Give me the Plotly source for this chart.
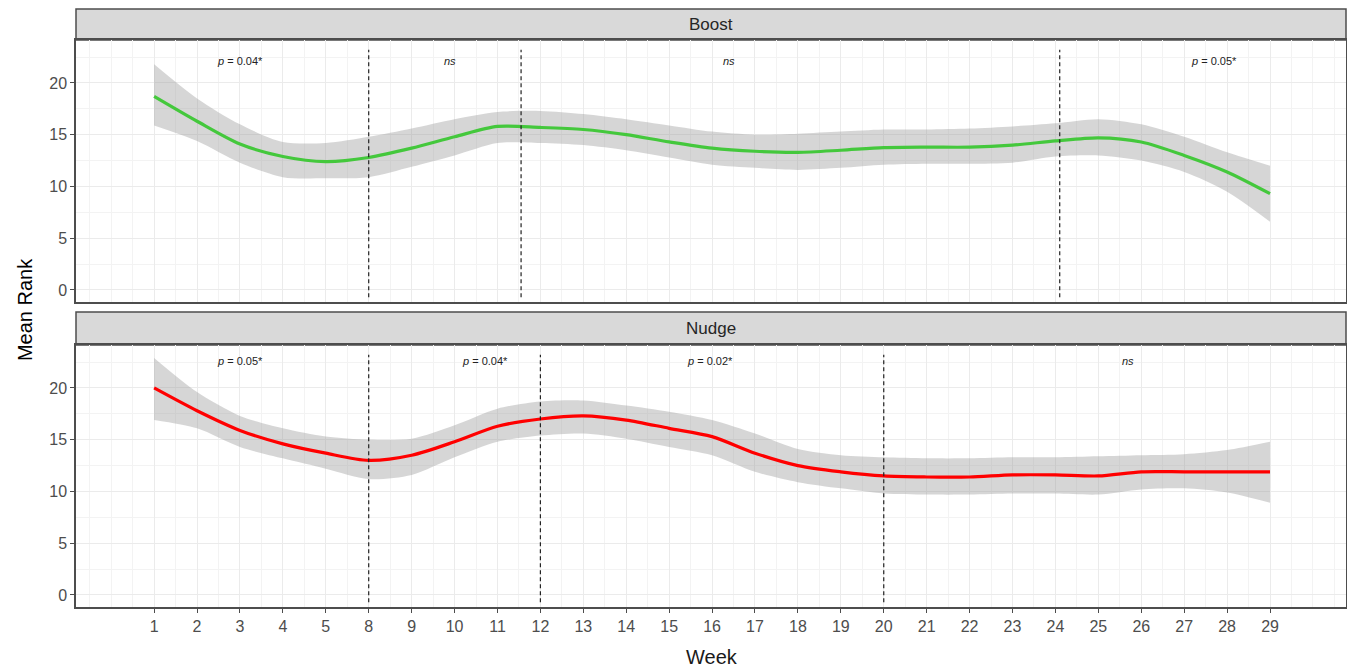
import plotly.graph_objects as go

# ---------------- data ----------------
week_labels = ["1", "2", "3", "4", "5", "8", "9", "10", "11", "12", "13", "14", "15", "16",
               "17", "18", "19", "20", "21", "22", "23", "24", "25", "26", "27", "28", "29"]
positions = list(range(1, len(week_labels) + 1))

boost_mean = [18.7, 16.3, 14.1, 12.9, 12.4, 12.8, 13.7, 14.8, 15.8, 15.7, 15.5, 15.0, 14.3, 13.7,
              13.4, 13.3, 13.5, 13.75, 13.8, 13.8, 14.0, 14.4, 14.7, 14.3, 13.0, 11.4, 9.3]
boost_upper = [21.8, 18.5, 16.0, 14.3, 14.2, 14.8, 15.6, 16.5, 17.2, 17.3, 17.0, 16.5, 15.9, 15.3,
               15.0, 15.1, 15.3, 15.5, 15.5, 15.6, 15.8, 16.1, 16.5, 16.0, 14.8, 13.3, 12.0]
boost_lower = [15.9, 14.4, 12.3, 10.9, 10.8, 10.9, 11.9, 13.0, 14.2, 14.2, 14.0, 13.5, 12.8, 12.1,
               11.8, 11.6, 11.8, 12.1, 12.2, 12.2, 12.3, 12.9, 13.0, 12.5, 11.4, 9.5, 6.6]

nudge_mean = [20.0, 17.8, 15.9, 14.6, 13.7, 13.0, 13.5, 14.8, 16.3, 17.0, 17.3, 16.9, 16.1, 15.3,
              13.7, 12.5, 11.9, 11.5, 11.4, 11.4, 11.6, 11.6, 11.5, 11.9, 11.9, 11.9, 11.9]
nudge_upper = [22.9, 19.6, 17.3, 16.1, 15.3, 15.0, 15.1, 16.4, 18.0, 18.7, 18.8, 18.3, 17.7, 16.9,
               15.6, 14.1, 13.5, 13.3, 13.2, 13.2, 13.3, 13.3, 13.4, 13.5, 13.6, 14.0, 14.8]
nudge_lower = [16.9, 16.1, 14.3, 13.2, 12.2, 11.2, 11.6, 13.3, 14.8, 15.4, 15.6, 15.1, 14.3, 13.5,
               11.9, 10.9, 10.3, 9.8, 9.7, 9.7, 9.8, 9.8, 9.7, 10.2, 10.3, 9.9, 8.9]

boost_breaks = [6, 9.55, 22.1]
nudge_breaks = [6, 10, 18]

boost_notes = [(3, 22.1, "<i>p</i> = 0.04*"), (7.9, 22.1, "<i>ns</i>"),
               (14.4, 22.1, "<i>ns</i>"), (25.7, 22.1, "<i>p</i> = 0.05*")]
nudge_notes = [(3, 22.6, "<i>p</i> = 0.05*"), (8.7, 22.6, "<i>p</i> = 0.04*"),
               (13.95, 22.6, "<i>p</i> = 0.02*"), (23.7, 22.6, "<i>ns</i>")]

# ---------------- layout constants ----------------
FONT = "Liberation Sans"
TOP_DOM = [0.5092, 0.9466]
BOT_DOM = [0.0, 0.4374]
TOP_STRIP = [0.9466, 0.9983]
BOT_STRIP = [0.4374, 0.4925]
XRANGE = [-0.82, 28.77]
YRANGE = [-1.16, 24.15]
BAND = "rgba(153,153,153,0.4)"

fig = go.Figure()


def add_series(xa, ya, mean, upper, lower, color):
    fig.add_trace(go.Scatter(x=positions, y=lower, xaxis=xa, yaxis=ya, mode="lines",
                             line=dict(width=0, shape="spline", smoothing=0.8),
                             hoverinfo="skip", showlegend=False))
    fig.add_trace(go.Scatter(x=positions, y=upper, xaxis=xa, yaxis=ya, mode="lines",
                             line=dict(width=0, shape="spline", smoothing=0.8),
                             fill="tonexty", fillcolor=BAND, hoverinfo="skip", showlegend=False))
    fig.add_trace(go.Scatter(x=positions, y=mean, xaxis=xa, yaxis=ya, mode="lines",
                             line=dict(color=color, width=3.2, shape="spline", smoothing=0.8),
                             showlegend=False))


add_series("x", "y", boost_mean, boost_upper, boost_lower, "#44C83C")
add_series("x2", "y2", nudge_mean, nudge_upper, nudge_lower, "#FF0000")

shapes = []
annotations = []

for xb in boost_breaks:
    shapes.append(dict(type="line", xref="x", yref="y", x0=xb, x1=xb, y0=-0.7, y1=23.2,
                       line=dict(color="#222222", width=1.2, dash="4px,3px")))
for xb in nudge_breaks:
    shapes.append(dict(type="line", xref="x2", yref="y2", x0=xb, x1=xb, y0=-0.7, y1=23.2,
                       line=dict(color="#222222", width=1.2, dash="4px,3px")))

for xn, yn, t in boost_notes:
    annotations.append(dict(x=xn, y=yn, xref="x", yref="y", text=t, showarrow=False,
                            font=dict(family=FONT, size=11, color="#222222")))
for xn, yn, t in nudge_notes:
    annotations.append(dict(x=xn, y=yn, xref="x2", yref="y2", text=t, showarrow=False,
                            font=dict(family=FONT, size=11, color="#222222")))

# strips
for dom, label in [(TOP_STRIP, "Boost"), (BOT_STRIP, "Nudge")]:
    shapes.append(dict(type="rect", xref="paper", yref="paper", x0=0, x1=1, y0=dom[0], y1=dom[1],
                       fillcolor="#D9D9D9", line=dict(color="#4D4D4D", width=1.5), layer="below"))
    annotations.append(dict(x=0.5, y=(dom[0] + dom[1]) / 2, xref="paper", yref="paper",
                            text=label, showarrow=False, yanchor="middle",
                            font=dict(family=FONT, size=17, color="#262626")))

annotations.append(dict(x=-0.040, y=0.496, xref="paper", yref="paper", text="Mean Rank",
                        textangle=-90, showarrow=False, xanchor="center", yanchor="middle",
                        font=dict(family=FONT, size=20, color="black")))
annotations.append(dict(x=0.5008, y=-0.0835, xref="paper", yref="paper", text="Week",
                        showarrow=False, xanchor="center", yanchor="middle",
                        font=dict(family=FONT, size=20, color="#1a1a1a")))

grid = "#EBEBEB"
xcommon = dict(range=XRANGE, tickmode="array", tickvals=positions, ticktext=week_labels,
               showgrid=True, gridcolor=grid, gridwidth=1, zeroline=False,
               showline=True, mirror=True, linecolor="#4D4D4D", linewidth=1.5,
               minor=dict(tickmode="linear", tick0=0, dtick=0.5, showgrid=True,
                          gridcolor="#F3F3F3", gridwidth=1, ticks=""))
ycommon = dict(range=YRANGE, tickmode="array", tickvals=[0, 5, 10, 15, 20],
               showgrid=True, gridcolor=grid, gridwidth=1, zeroline=False,
               showline=True, mirror=True, linecolor="#4D4D4D", linewidth=1.5,
               ticks="outside", ticklen=4, tickcolor="#4D4D4D",
               tickfont=dict(family=FONT, size=16, color="#4D4D4D"),
               minor=dict(tickmode="linear", tick0=0, dtick=2.5, showgrid=True,
                          gridcolor="#F3F3F3", gridwidth=1, ticks=""))

fig.update_layout(
    width=1347, height=667,
    margin=dict(l=76, r=1, t=8, b=60, autoexpand=False),
    paper_bgcolor="white", plot_bgcolor="white",
    xaxis=dict(**xcommon, anchor="y", showticklabels=False, ticks=""),
    yaxis=dict(**ycommon, anchor="x", domain=TOP_DOM),
    xaxis2=dict(**xcommon, anchor="y2", ticks="outside", ticklen=4, tickcolor="#4D4D4D",
                tickfont=dict(family=FONT, size=16, color="#4D4D4D")),
    yaxis2=dict(**ycommon, anchor="x2", domain=BOT_DOM),
    shapes=shapes,
    annotations=annotations,
    showlegend=False,
)

fig.write_html(
    "out.html",
    config={"displayModeBar": False},
    post_script="document.body.style.margin='0';document.body.style.overflow='hidden';",
)
